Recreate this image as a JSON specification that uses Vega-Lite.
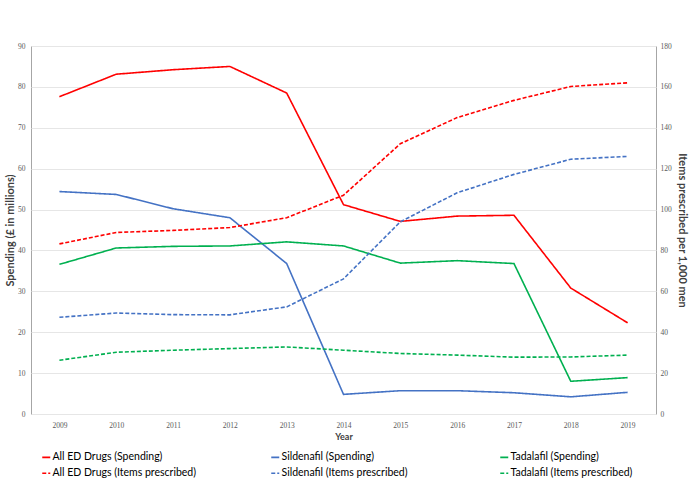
{
  "$schema": "https://vega.github.io/schema/vega-lite/v6.json",
  "width": 625,
  "height": 368,
  "autosize": {"type": "none"},
  "padding": {"left": 31, "top": 46, "right": 33, "bottom": 75},
  "background": "white",
  "config": {
    "view": {"stroke": "#a6a6a6", "strokeWidth": 1},
    "font": "Lato",
    "axis": {
      "labelFont": "Liberation Serif",
      "labelFontSize": 7.5,
      "labelColor": "#595959",
      "titleFont": "Lato",
      "titleFontWeight": "bold",
      "titleColor": "#404040",
      "domain": false,
      "ticks": false
    }
  },
  "datasets": {
    "spend": [
      {"Year": 2009, "series": "All ED Drugs (Spending)", "value": 77.6},
      {"Year": 2010, "series": "All ED Drugs (Spending)", "value": 83.1},
      {"Year": 2011, "series": "All ED Drugs (Spending)", "value": 84.2},
      {"Year": 2012, "series": "All ED Drugs (Spending)", "value": 85.0},
      {"Year": 2013, "series": "All ED Drugs (Spending)", "value": 78.5},
      {"Year": 2014, "series": "All ED Drugs (Spending)", "value": 51.2},
      {"Year": 2015, "series": "All ED Drugs (Spending)", "value": 47.1},
      {"Year": 2016, "series": "All ED Drugs (Spending)", "value": 48.4},
      {"Year": 2017, "series": "All ED Drugs (Spending)", "value": 48.6},
      {"Year": 2018, "series": "All ED Drugs (Spending)", "value": 30.8},
      {"Year": 2019, "series": "All ED Drugs (Spending)", "value": 22.3},
      {"Year": 2009, "series": "Sildenafil (Spending)", "value": 54.4},
      {"Year": 2010, "series": "Sildenafil (Spending)", "value": 53.7},
      {"Year": 2011, "series": "Sildenafil (Spending)", "value": 50.2},
      {"Year": 2012, "series": "Sildenafil (Spending)", "value": 48.0},
      {"Year": 2013, "series": "Sildenafil (Spending)", "value": 36.8},
      {"Year": 2014, "series": "Sildenafil (Spending)", "value": 4.8},
      {"Year": 2015, "series": "Sildenafil (Spending)", "value": 5.7},
      {"Year": 2016, "series": "Sildenafil (Spending)", "value": 5.7},
      {"Year": 2017, "series": "Sildenafil (Spending)", "value": 5.2},
      {"Year": 2018, "series": "Sildenafil (Spending)", "value": 4.2},
      {"Year": 2019, "series": "Sildenafil (Spending)", "value": 5.3},
      {"Year": 2009, "series": "Tadalafil (Spending)", "value": 36.6},
      {"Year": 2010, "series": "Tadalafil (Spending)", "value": 40.6},
      {"Year": 2011, "series": "Tadalafil (Spending)", "value": 41.0},
      {"Year": 2012, "series": "Tadalafil (Spending)", "value": 41.1},
      {"Year": 2013, "series": "Tadalafil (Spending)", "value": 42.1},
      {"Year": 2014, "series": "Tadalafil (Spending)", "value": 41.1},
      {"Year": 2015, "series": "Tadalafil (Spending)", "value": 36.9},
      {"Year": 2016, "series": "Tadalafil (Spending)", "value": 37.5},
      {"Year": 2017, "series": "Tadalafil (Spending)", "value": 36.8},
      {"Year": 2018, "series": "Tadalafil (Spending)", "value": 8.0},
      {"Year": 2019, "series": "Tadalafil (Spending)", "value": 8.9}
    ],
    "items": [
      {"Year": 2009, "series": "All ED Drugs (Items prescribed)", "value": 83.2},
      {"Year": 2010, "series": "All ED Drugs (Items prescribed)", "value": 88.8},
      {"Year": 2011, "series": "All ED Drugs (Items prescribed)", "value": 89.8},
      {"Year": 2012, "series": "All ED Drugs (Items prescribed)", "value": 91.2},
      {"Year": 2013, "series": "All ED Drugs (Items prescribed)", "value": 96.0},
      {"Year": 2014, "series": "All ED Drugs (Items prescribed)", "value": 107.0},
      {"Year": 2015, "series": "All ED Drugs (Items prescribed)", "value": 132.2},
      {"Year": 2016, "series": "All ED Drugs (Items prescribed)", "value": 145.0},
      {"Year": 2017, "series": "All ED Drugs (Items prescribed)", "value": 153.4},
      {"Year": 2018, "series": "All ED Drugs (Items prescribed)", "value": 160.2},
      {"Year": 2019, "series": "All ED Drugs (Items prescribed)", "value": 162.0},
      {"Year": 2009, "series": "Sildenafil (Items prescribed)", "value": 47.3},
      {"Year": 2010, "series": "Sildenafil (Items prescribed)", "value": 49.4},
      {"Year": 2011, "series": "Sildenafil (Items prescribed)", "value": 48.6},
      {"Year": 2012, "series": "Sildenafil (Items prescribed)", "value": 48.5},
      {"Year": 2013, "series": "Sildenafil (Items prescribed)", "value": 52.4},
      {"Year": 2014, "series": "Sildenafil (Items prescribed)", "value": 66.1},
      {"Year": 2015, "series": "Sildenafil (Items prescribed)", "value": 94.0},
      {"Year": 2016, "series": "Sildenafil (Items prescribed)", "value": 108.2},
      {"Year": 2017, "series": "Sildenafil (Items prescribed)", "value": 117.2},
      {"Year": 2018, "series": "Sildenafil (Items prescribed)", "value": 124.6},
      {"Year": 2019, "series": "Sildenafil (Items prescribed)", "value": 126.0},
      {"Year": 2009, "series": "Tadalafil (Items prescribed)", "value": 26.3},
      {"Year": 2010, "series": "Tadalafil (Items prescribed)", "value": 30.2},
      {"Year": 2011, "series": "Tadalafil (Items prescribed)", "value": 31.2},
      {"Year": 2012, "series": "Tadalafil (Items prescribed)", "value": 32.0},
      {"Year": 2013, "series": "Tadalafil (Items prescribed)", "value": 32.8},
      {"Year": 2014, "series": "Tadalafil (Items prescribed)", "value": 31.2},
      {"Year": 2015, "series": "Tadalafil (Items prescribed)", "value": 29.6},
      {"Year": 2016, "series": "Tadalafil (Items prescribed)", "value": 28.8},
      {"Year": 2017, "series": "Tadalafil (Items prescribed)", "value": 27.8},
      {"Year": 2018, "series": "Tadalafil (Items prescribed)", "value": 27.9},
      {"Year": 2019, "series": "Tadalafil (Items prescribed)", "value": 28.8}
    ]
  },
  "layer": [
    {
      "data": {"name": "spend"},
      "mark": {"type": "line", "strokeWidth": 1.6},
      "encoding": {
        "x": {
          "field": "Year", "type": "ordinal",
          "axis": {"labelAngle": 0, "title": "Year", "titleFontSize": 9, "labelPadding": 7, "titlePadding": 4, "grid": false}
        },
        "y": {
          "field": "value", "type": "quantitative",
          "scale": {"domain": [0, 90]},
          "axis": {"orient": "left", "title": "Spending (£ in millions)", "values": [0, 10, 20, 30, 40, 50, 60, 70, 80, 90], "titleFontSize": 11, "labelPadding": 6, "titlePadding": 2, "grid": true, "gridColor": "#e6e6e6"}
        },
        "color": {
          "field": "series", "type": "nominal",
          "scale": {
            "domain": ["All ED Drugs (Spending)", "Sildenafil (Spending)", "Tadalafil (Spending)", "All ED Drugs (Items prescribed)", "Sildenafil (Items prescribed)", "Tadalafil (Items prescribed)"],
            "range": ["#ff0000", "#4472c4", "#00b050", "#ff0000", "#4472c4", "#00b050"]
          },
          "legend": {
            "orient": "bottom", "direction": "horizontal", "columns": 3, "title": null,
            "symbolType": "stroke", "symbolSize": 64, "symbolStrokeWidth": 1.6,
            "labelFont": "Lato", "labelFontSize": 10.5, "labelColor": "#000000", "labelOffset": 1,
            "gridAlign": "all", "columnPadding": 71, "rowPadding": 5, "offset": 0, "padding": 10, "labelLimit": 300
          }
        },
        "strokeDash": {
          "field": "series", "type": "nominal",
          "scale": {
            "domain": ["All ED Drugs (Spending)", "Sildenafil (Spending)", "Tadalafil (Spending)", "All ED Drugs (Items prescribed)", "Sildenafil (Items prescribed)", "Tadalafil (Items prescribed)"],
            "range": [[1, 0], [1, 0], [1, 0], [4, 2], [4, 2], [4, 2]]
          },
          "legend": {
            "orient": "bottom", "direction": "horizontal", "columns": 3, "title": null,
            "symbolType": "stroke", "symbolSize": 64, "symbolStrokeWidth": 1.6,
            "labelFont": "Lato", "labelFontSize": 10.5, "labelColor": "#000000", "labelOffset": 1,
            "gridAlign": "all", "columnPadding": 71, "rowPadding": 5, "offset": 0, "padding": 10, "labelLimit": 300
          }
        }
      }
    },
    {
      "data": {"name": "items"},
      "mark": {"type": "line", "strokeWidth": 1.6},
      "encoding": {
        "x": {"field": "Year", "type": "ordinal"},
        "y": {
          "field": "value", "type": "quantitative",
          "scale": {"domain": [0, 180]},
          "axis": {"orient": "right", "title": "Items prescribed per 1,000 men", "values": [0, 20, 40, 60, 80, 100, 120, 140, 160, 180], "titleFontSize": 11, "labelPadding": 4, "titlePadding": 5, "grid": false}
        },
        "color": {"field": "series", "type": "nominal"},
        "strokeDash": {"field": "series", "type": "nominal"}
      }
    }
  ],
  "resolve": {"scale": {"y": "independent"}}
}
